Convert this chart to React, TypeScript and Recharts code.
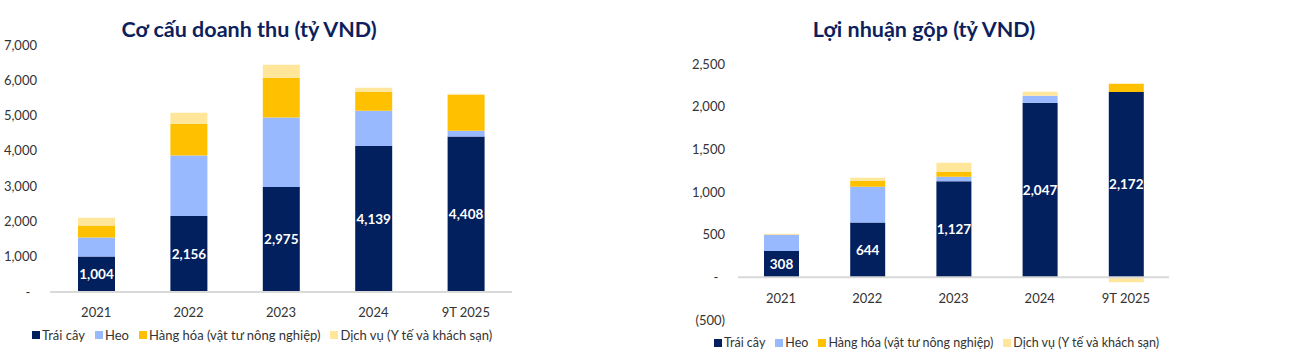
import React from 'react'
import { BarChart, Bar, XAxis, YAxis, ReferenceLine, LabelList } from 'recharts'

const years = ['2021', '2022', '2023', '2024', '9T 2025']

// Cơ cấu doanh thu (tỷ VND)
const revFruit = [1004, 2156, 2975, 4139, 4408]
const revPig = [543, 1714, 1971, 997, 162]
const revGoods = [340, 898, 1125, 538, 1020]
const revService = [218, 311, 369, 114, 28]
const revTicks = [0, 1000, 2000, 3000, 4000, 5000, 6000, 7000]

// Lợi nhuận gộp (tỷ VND)
const gpFruit = [308, 644, 1127, 2047, 2172]
const gpPig = [192, 418, 52, 80, -12]
const gpGoods = [3, 70, 59, 2, 96]
const gpService = [8, 36, 105, 45, -45]
const gpTicks = [-500, 0, 500, 1000, 1500, 2000, 2500]

const seriesNames = ['Trái cây', 'Heo', 'Hàng hóa (vật tư nông nghiệp)', 'Dịch vụ (Y tế và khách sạn)']
const COLORS = ['#03205e', '#99b9ff', '#ffc000', '#ffe69b']
const FONT = 'Lato, "Open Sans", sans-serif'
const TITLE = '#0d1f5c'

const revData = years.map((y, i) => ({
  year: y,
  fruit: revFruit[i],
  pig: revPig[i],
  goods: revGoods[i],
  service: revService[i],
}))

const gpData = years.map((y, i) => ({
  year: y,
  fruit: gpFruit[i],
  pig: gpPig[i],
  goods: gpGoods[i],
  service: gpService[i],
}))

// kiểu kế toán Excel: 0 → "-", âm → "(500)"
function fmtAcc(v: number): string {
  if (v === 0) return '-\u00a0\u00a0'
  if (v < 0) return `(${Math.abs(v).toLocaleString('en-US')})`
  return v.toLocaleString('en-US')
}

function makeTick(dy: number) {
  return function XTick(props: any) {
    const { x, y, payload } = props
    return (
      <text x={x} y={y + dy} textAnchor="middle" dominantBaseline="central" fill="#333" fontSize={13} fontFamily={FONT}>
        {payload.value}
      </text>
    )
  }
}

function LegendRow({ left, top, fontSize }: { left: number; top: number; fontSize: number }) {
  return (
    <div
      style={{
        position: 'absolute',
        left,
        top,
        display: 'flex',
        alignItems: 'center',
        gap: 10,
        fontFamily: FONT,
        fontSize,
        color: '#333',
        whiteSpace: 'nowrap',
      }}
    >
      {seriesNames.map((n, i) => (
        <span key={n} style={{ display: 'flex', alignItems: 'center', gap: 2 }}>
          <span style={{ width: 8, height: 8, background: COLORS[i], display: 'inline-block' }} />
          {n}
        </span>
      ))}
    </div>
  )
}

function Title({ text, cx }: { text: string; cx: number }) {
  return (
    <div
      style={{
        position: 'absolute',
        left: cx - 200,
        width: 400,
        top: 14,
        textAlign: 'center',
        fontFamily: FONT,
        fontWeight: 700,
        fontSize: 21.5,
        color: TITLE,
        lineHeight: '30px',
      }}
    >
      {text}
    </div>
  )
}

const yTick = { fill: '#333', fontSize: 13, fontFamily: FONT }
const label = { fill: '#fff', fontSize: 13.5, fontWeight: 700, fontFamily: FONT }

export default function App() {
  return (
    <div style={{ position: 'fixed', left: 0, top: 0, width: 1300, height: 362, background: '#fff', overflow: 'hidden' }}>
      <Title text="Cơ cấu doanh thu (tỷ VND)" cx={249} />
      <Title text="Lợi nhuận gộp (tỷ VND)" cx={924} />

      <div style={{ position: 'absolute', left: 0, top: 0 }}>
        <BarChart width={650} height={362} data={revData} margin={{ top: 45, right: 138, bottom: 40, left: 0 }}>
          <XAxis
            dataKey="year"
            height={30}
            axisLine={{ stroke: '#d9d9d9', strokeWidth: 2 }}
            tickLine={false}
            tickSize={0}
            tick={makeTick(18)}
            interval={0}
          />
          <YAxis
            width={50}
            domain={[0, 7000]}
            ticks={revTicks}
            axisLine={false}
            tickLine={false}
            tickSize={0}
            tickMargin={13}
            tick={yTick}
            tickFormatter={fmtAcc}
            interval={0}
          />
          <Bar dataKey="fruit" stackId="a" fill={COLORS[0]} barSize={37} isAnimationActive={false}>
            <LabelList dataKey="fruit" position="center" style={label} formatter={(v: any) => Number(v).toLocaleString('en-US')} />
          </Bar>
          <Bar dataKey="pig" stackId="a" fill={COLORS[1]} barSize={37} isAnimationActive={false} />
          <Bar dataKey="goods" stackId="a" fill={COLORS[2]} barSize={37} isAnimationActive={false} />
          <Bar dataKey="service" stackId="a" fill={COLORS[3]} barSize={37} isAnimationActive={false} />
        </BarChart>
      </div>

      <div style={{ position: 'absolute', left: 650, top: 0 }}>
        <BarChart
          width={650}
          height={362}
          data={gpData}
          stackOffset="sign"
          margin={{ top: 64, right: 131, bottom: 12, left: 38 }}
        >
          <XAxis
            dataKey="year"
            height={30}
            axisLine={false}
            tickLine={false}
            tickSize={0}
            tick={makeTick(-24)}
            interval={0}
          />
          <YAxis
            width={50}
            domain={[-500, 2500]}
            ticks={gpTicks}
            axisLine={false}
            tickLine={false}
            tickSize={0}
            tickMargin={13}
            tick={yTick}
            tickFormatter={fmtAcc}
            interval={0}
          />
          <Bar dataKey="fruit" stackId="a" fill={COLORS[0]} barSize={35} isAnimationActive={false}>
            <LabelList dataKey="fruit" position="center" style={label} formatter={(v: any) => Number(v).toLocaleString('en-US')} />
          </Bar>
          <Bar dataKey="pig" stackId="a" fill={COLORS[1]} barSize={35} isAnimationActive={false} />
          <Bar dataKey="goods" stackId="a" fill={COLORS[2]} barSize={35} isAnimationActive={false} />
          <Bar dataKey="service" stackId="a" fill={COLORS[3]} barSize={35} isAnimationActive={false} />
          <ReferenceLine y={0} stroke="#d9d9d9" strokeWidth={2} />
        </BarChart>
      </div>

      <LegendRow left={32} top={327} fontSize={13} />
      <LegendRow left={714} top={335} fontSize={12.5} />
    </div>
  )
}
